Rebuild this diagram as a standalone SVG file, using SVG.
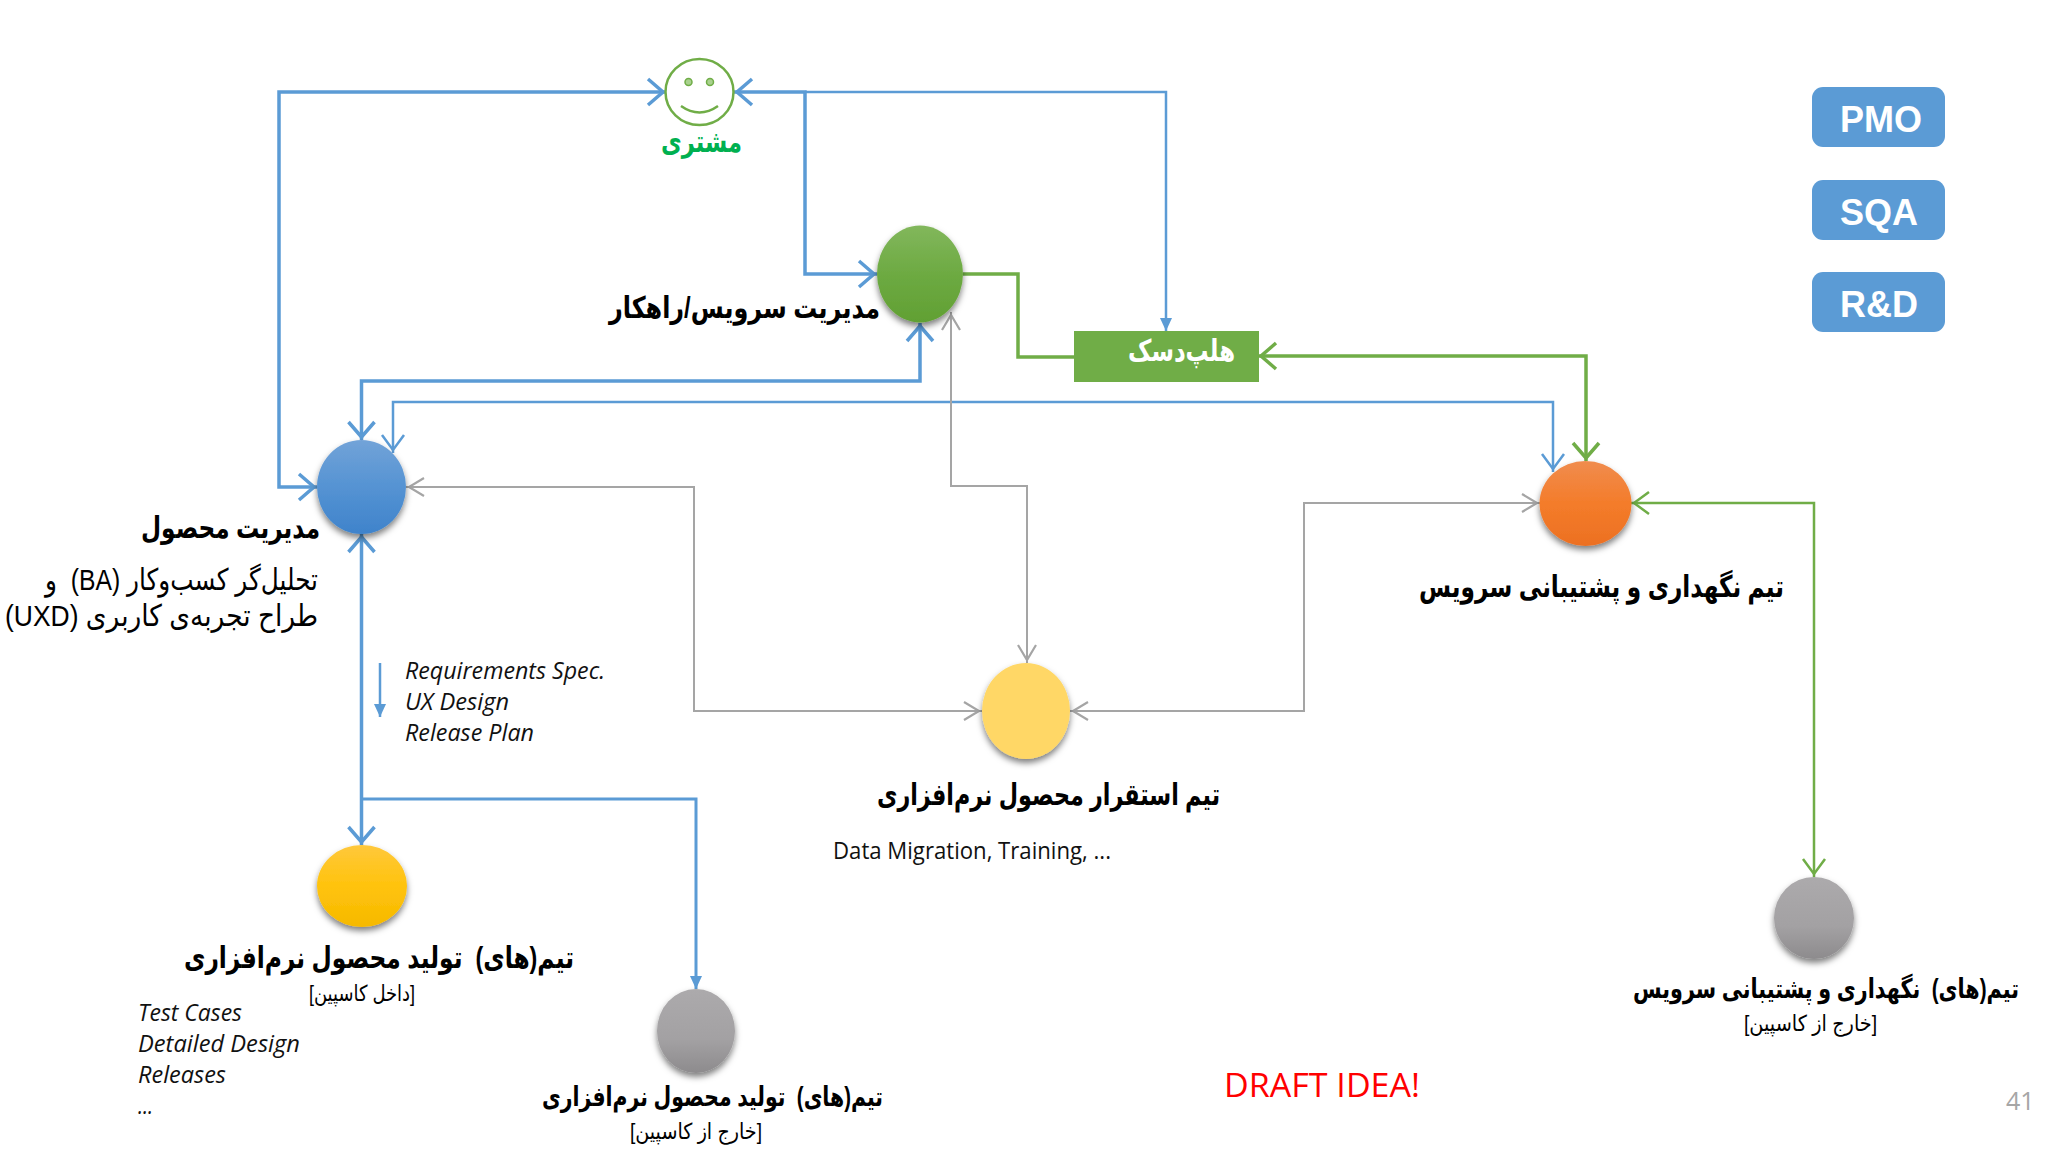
<svg xmlns="http://www.w3.org/2000/svg" width="2048" height="1152" viewBox="0 0 2048 1152">
<style>
.c{fill:none;stroke-linejoin:miter}
.b1{stroke:#5B9BD5;stroke-width:3.5}
.b2{stroke:#5B9BD5;stroke-width:2.5}
.b3{stroke:#5B9BD5;stroke-width:3}
.g1{stroke:#70AD47;stroke-width:3.5}
.g2{stroke:#70AD47;stroke-width:2.5}
.y{stroke:#A5A5A5;stroke-width:2}
.fa{font-family:"Liberation Sans","DejaVu Sans",sans-serif;direction:rtl;fill:#000;white-space:pre}
.bd{font-weight:700}
.en{font-family:"Open Sans",sans-serif;fill:#111}
.it{font-style:italic;font-size:23px}
.tag{font-family:"Liberation Sans",Arial,sans-serif;font-weight:700;font-size:36px;fill:#fff;text-anchor:middle}
.tagbox{fill:#5B9BD5}
</style>
<defs>
<filter id="sh" x="-30%" y="-30%" width="160%" height="160%"><feDropShadow dx="0" dy="4" stdDeviation="3" flood-color="#000" flood-opacity=".5"/></filter>
<linearGradient id="gBlue" x1="0" y1="0" x2="0" y2="1"><stop offset="0" stop-color="#72A3D8"/><stop offset=".5" stop-color="#5593D3"/><stop offset="1" stop-color="#3F83CB"/></linearGradient>
<linearGradient id="gGreen" x1="0" y1="0" x2="0" y2="1"><stop offset="0" stop-color="#82B75C"/><stop offset=".5" stop-color="#6DAA42"/><stop offset="1" stop-color="#61A033"/></linearGradient>
<linearGradient id="gGold" x1="0" y1="0" x2="0" y2="1"><stop offset="0" stop-color="#FFC83C"/><stop offset=".5" stop-color="#FFC30C"/><stop offset="1" stop-color="#F6B900"/></linearGradient>
<linearGradient id="gGray" x1="0" y1="0" x2="0" y2="1"><stop offset="0" stop-color="#ACAAAC"/><stop offset=".6" stop-color="#A3A1A3"/><stop offset="1" stop-color="#8D8B8D"/></linearGradient>
<linearGradient id="gOrange" x1="0" y1="0" x2="0" y2="1"><stop offset="0" stop-color="#F08C4E"/><stop offset=".5" stop-color="#F47C2A"/><stop offset="1" stop-color="#EC7022"/></linearGradient>
<marker id="oB" markerUnits="userSpaceOnUse" viewBox="0 0 24 30" refX="21" refY="15" markerWidth="24" markerHeight="30" orient="auto-start-reverse"><path d="M3 2L18 15L3 28" fill="none" stroke="#5B9BD5" stroke-width="3.5"/></marker>
<marker id="oBt" markerUnits="userSpaceOnUse" viewBox="0 0 24 30" refX="21" refY="15" markerWidth="24" markerHeight="30" orient="auto-start-reverse"><path d="M3 4L18 15L3 26" fill="none" stroke="#5B9BD5" stroke-width="2.5"/></marker>
<marker id="oG" markerUnits="userSpaceOnUse" viewBox="0 0 24 30" refX="21" refY="15" markerWidth="24" markerHeight="30" orient="auto-start-reverse"><path d="M3 2L18 15L3 28" fill="none" stroke="#70AD47" stroke-width="3.5"/></marker>
<marker id="oGt" markerUnits="userSpaceOnUse" viewBox="0 0 24 30" refX="21" refY="15" markerWidth="24" markerHeight="30" orient="auto-start-reverse"><path d="M3 4L18 15L3 26" fill="none" stroke="#70AD47" stroke-width="2.5"/></marker>
<marker id="oY" markerUnits="userSpaceOnUse" viewBox="0 0 24 30" refX="21" refY="15" markerWidth="24" markerHeight="30" orient="auto-start-reverse"><path d="M3 6L18 15L3 24" fill="none" stroke="#A5A5A5" stroke-width="2.2"/></marker>
<marker id="fB" markerUnits="userSpaceOnUse" viewBox="0 0 14 14" refX="13" refY="7" markerWidth="14" markerHeight="14" orient="auto"><path d="M0 1L13 7L0 13z" fill="#5B9BD5"/></marker>
</defs>
<rect width="2048" height="1152" fill="#fff"/>
<g id="connectors">
<path class="c b1" d="M317 487H279V92H666" marker-start="url(#oB)" marker-end="url(#oB)"/>
<path class="c b1" d="M734 92H805V274H877" marker-start="url(#oB)" marker-end="url(#oB)"/>
<path class="c b2" d="M805 92H1166V331" marker-end="url(#fB)"/>
<path class="c g1" d="M963 274H1018V357H1074"/>
<path class="c g1" d="M1258 356H1586V461" marker-start="url(#oG)" marker-end="url(#oG)"/>
<path class="c b1" d="M361.500 440V381H920V323" marker-start="url(#oB)" marker-end="url(#oB)"/>
<path class="c b2" d="M393 453V402H1553V472" marker-start="url(#oBt)" marker-end="url(#oBt)"/>
<path class="c y" d="M406 487H694V711H982" marker-start="url(#oY)" marker-end="url(#oY)"/>
<path class="c y" d="M951 312V486H1027V663" marker-start="url(#oY)" marker-end="url(#oY)"/>
<path class="c y" d="M1070 711H1304V503H1540" marker-start="url(#oY)" marker-end="url(#oY)"/>
<path class="c g2" d="M1631 503H1814V877" marker-start="url(#oGt)" marker-end="url(#oGt)"/>
<path class="c b1" d="M361.500 534V845" marker-start="url(#oB)" marker-end="url(#oB)"/>
<path class="c b3" d="M361.500 799H696V989" marker-end="url(#fB)"/>
<path class="c b2" d="M380 663V717" marker-end="url(#fB)"/>
</g>
<g id="customer">
<ellipse cx="699.500" cy="92" rx="34" ry="33" fill="#fff" stroke="#70AD47" stroke-width="2.500"/>
<ellipse cx="688.500" cy="82" rx="3.500" ry="3.500" fill="#A9D18E" stroke="#70AD47" stroke-width="1.500"/>
<ellipse cx="710" cy="82" rx="3.500" ry="3.500" fill="#A9D18E" stroke="#70AD47" stroke-width="1.500"/>
<path d="M681 106Q699.500 119 718 106" fill="none" stroke="#70AD47" stroke-width="2.500"/>
<text class="fa bd" x="742" y="152" font-size="30" style="fill:#00B050" textLength="81" lengthAdjust="spacingAndGlyphs">مشتری</text>
</g>
<g id="solution-mgmt">
<ellipse cx="920" cy="274" rx="43" ry="48.500" fill="url(#gGreen)" filter="url(#sh)"/>
<text class="fa bd" x="880" y="318" font-size="30" textLength="271" lengthAdjust="spacingAndGlyphs">مدیریت سرویس/راهکار</text>
</g>
<g id="helpdesk">
<rect x="1074" y="331" width="185" height="51" fill="#70AD47"/>
<text class="fa bd" x="1235" y="361" font-size="30" style="fill:#fff" textLength="107" lengthAdjust="spacingAndGlyphs">هلپ‌دسک</text>
</g>
<g id="product-mgmt">
<ellipse cx="361.500" cy="487" rx="44.500" ry="47" fill="url(#gBlue)" filter="url(#sh)"/>
<text class="fa bd" x="320" y="538" font-size="30" textLength="179" lengthAdjust="spacingAndGlyphs">مدیریت محصول</text>
<text class="fa" x="318" y="590" font-size="30" textLength="273" lengthAdjust="spacingAndGlyphs">تحلیل‌گر کسب‌وکار (BA)  و</text>
<text class="fa" x="318" y="626" font-size="30" textLength="313" lengthAdjust="spacingAndGlyphs">طراح تجربه‌ی کاربری (UXD)</text>
</g>
<g id="requirements">
<text class="en it" x="405" y="679" textLength="200" lengthAdjust="spacingAndGlyphs">Requirements Spec.</text>
<text class="en it" x="405" y="710" textLength="104" lengthAdjust="spacingAndGlyphs">UX Design</text>
<text class="en it" x="405" y="741" textLength="129" lengthAdjust="spacingAndGlyphs">Release Plan</text>
</g>
<g id="dev-team-in">
<ellipse cx="362" cy="886" rx="45" ry="41" fill="url(#gGold)" filter="url(#sh)"/>
<text class="fa bd" x="574" y="968" font-size="30" textLength="390" lengthAdjust="spacingAndGlyphs">تیم(های)  تولید محصول نرم‌افزاری</text>
<text class="fa" x="415" y="1001" font-size="22" textLength="106" lengthAdjust="spacingAndGlyphs">[داخل کاسپین]</text>
<text class="en it" x="138" y="1021" textLength="104" lengthAdjust="spacingAndGlyphs">Test Cases</text>
<text class="en it" x="138" y="1052" textLength="162" lengthAdjust="spacingAndGlyphs">Detailed Design</text>
<text class="en it" x="138" y="1083" textLength="88" lengthAdjust="spacingAndGlyphs">Releases</text>
<text class="en it" x="138" y="1114" textLength="15" lengthAdjust="spacingAndGlyphs">...</text>
</g>
<g id="dev-team-out">
<ellipse cx="696" cy="1031" rx="39" ry="42" fill="url(#gGray)" filter="url(#sh)"/>
<text class="fa bd" x="883" y="1106" font-size="27" textLength="341" lengthAdjust="spacingAndGlyphs">تیم(های)  تولید محصول نرم‌افزاری</text>
<text class="fa" x="762" y="1139" font-size="22" textLength="132" lengthAdjust="spacingAndGlyphs">[خارج از کاسپین]</text>
</g>
<g id="deploy-team">
<ellipse cx="1026" cy="711" rx="44" ry="48" fill="#FFD766" filter="url(#sh)"/>
<text class="fa bd" x="1220" y="805" font-size="30" textLength="343" lengthAdjust="spacingAndGlyphs">تیم استقرار محصول نرم‌افزاری</text>
<text class="en" x="833" y="859" font-size="23" textLength="278" lengthAdjust="spacingAndGlyphs">Data Migration, Training, ...</text>
</g>
<g id="support-team">
<ellipse cx="1585.500" cy="503.500" rx="46" ry="42.500" fill="url(#gOrange)" filter="url(#sh)"/>
<text class="fa bd" x="1784" y="597" font-size="30" textLength="365" lengthAdjust="spacingAndGlyphs">تیم نگهداری و پشتیبانی سرویس</text>
</g>
<g id="support-team-out">
<ellipse cx="1814" cy="918" rx="40" ry="41" fill="url(#gGray)" filter="url(#sh)"/>
<text class="fa bd" x="1633" y="998" font-size="27" text-anchor="end" textLength="386" lengthAdjust="spacingAndGlyphs">تیم(های)  نگهداری و پشتیبانی سرویس</text>
<text class="fa" x="1877" y="1031" font-size="22" textLength="133" lengthAdjust="spacingAndGlyphs">[خارج از کاسپین]</text>
</g>
<g id="pmo"><rect class="tagbox" x="1812" y="87" width="133" height="60" rx="11"/><text class="tag" x="1881" y="132">PMO</text></g>
<g id="sqa"><rect class="tagbox" x="1812" y="180" width="133" height="60" rx="11"/><text class="tag" x="1879" y="225">SQA</text></g>
<g id="rd"><rect class="tagbox" x="1812" y="272" width="133" height="60" rx="11"/><text class="tag" x="1879" y="317">R&amp;D</text></g>
<text x="1224" y="1097" font-family="Open Sans, sans-serif" font-size="33" fill="#F00" textLength="196" lengthAdjust="spacingAndGlyphs">DRAFT IDEA!</text>
<text x="2006" y="1110" font-family="Open Sans, sans-serif" font-size="25" fill="#A6A6A6">41</text>
</svg>
